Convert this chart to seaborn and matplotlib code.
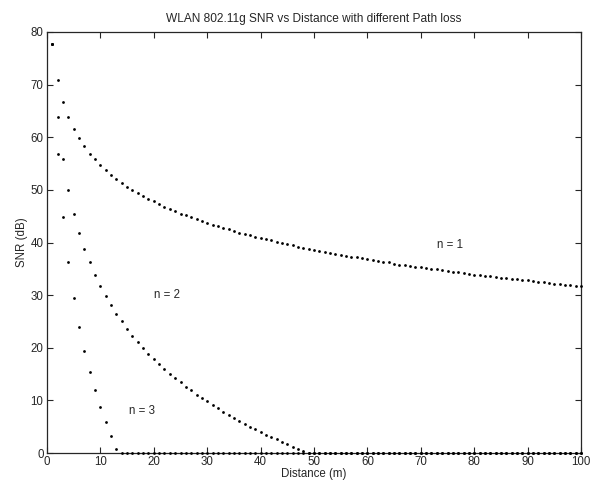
import matplotlib
matplotlib.use('Agg')
import matplotlib.pyplot as plt
import numpy as np
import pandas as pd
import seaborn as sns

# Distance in metres, one sample per metre
distance = list(range(1, 101))

# SNR (dB), path loss exponent n = 1
snr_n1 = [77.7, 70.8, 66.7, 63.9, 61.6, 59.8, 58.3, 56.9, 55.8, 54.7,
          53.8, 52.9, 52.1, 51.3, 50.6, 50.0, 49.4, 48.8, 48.3, 47.8,
          47.3, 46.8, 46.4, 46.0, 45.5, 45.2, 44.8, 44.4, 44.1, 43.7,
          43.4, 43.1, 42.8, 42.5, 42.2, 41.9, 41.6, 41.4, 41.1, 40.9,
          40.6, 40.4, 40.1, 39.9, 39.7, 39.5, 39.2, 39.0, 38.8, 38.6,
          38.4, 38.2, 38.0, 37.9, 37.7, 37.5, 37.3, 37.2, 37.0, 36.8,
          36.6, 36.5, 36.3, 36.2, 36.0, 35.8, 35.7, 35.5, 35.4, 35.3,
          35.1, 35.0, 34.9, 34.7, 34.6, 34.4, 34.3, 34.2, 34.0, 33.9,
          33.8, 33.7, 33.6, 33.4, 33.3, 33.2, 33.1, 33.0, 32.9, 32.8,
          32.6, 32.5, 32.4, 32.3, 32.2, 32.1, 32.0, 31.9, 31.8, 31.7]

# n = 2, reaches 0 dB near 48 m and stays there
snr_n2 = [77.7, 63.9, 55.8, 50.0, 45.5, 41.9, 38.8, 36.2, 33.8, 31.7,
          29.8, 28.1, 26.5, 25.0, 23.6, 22.3, 21.1, 20.0, 18.9, 17.9,
          16.9, 16.0, 15.1, 14.2, 13.4, 12.6, 11.9, 11.1, 10.4, 9.8,
          9.1, 8.5, 7.8, 7.3, 6.7, 6.1, 5.6, 5.0, 4.5, 4.0,
          3.5, 3.0, 2.6, 2.1, 1.7, 1.2, 0.8, 0.4] + [0.0] * 52

# n = 3, reaches 0 dB near 13 m
snr_n3 = [77.7, 56.9, 44.8, 36.2, 29.5, 24.0, 19.4, 15.4, 11.9, 8.7,
          5.9, 3.3, 0.8] + [0.0] * 87

labels = ['n = 1', 'n = 2', 'n = 3']

sns.set_style('ticks')
plt.rcParams['font.family'] = ['Liberation Sans', 'DejaVu Sans']
FS = 8.3

fig = plt.figure(figsize=(5.9, 4.83), dpi=100)
ax = fig.add_axes([47 / 590, 1 - 453 / 483, 534 / 590, 421 / 483])

for snr in [snr_n1, snr_n2, snr_n3]:
    df = pd.DataFrame({'Distance': distance, 'SNR': snr})
    sns.scatterplot(data=df, x='Distance', y='SNR', ax=ax, color='black',
                    s=4, linewidth=0, marker='o', clip_on=False, zorder=3)

ax.text(73, 39.5, labels[0], fontsize=FS, va='center', ha='left')
ax.text(20, 30, labels[1], fontsize=FS, va='center', ha='left')
ax.text(15.3, 7.9, labels[2], fontsize=FS, va='center', ha='left')

ax.set_xlim(0, 100)
ax.set_ylim(0, 80)
ax.set_xticks(np.arange(0, 101, 10))
ax.set_yticks(np.arange(0, 81, 10))
ax.tick_params(direction='in', length=4, width=0.8, labelsize=FS,
               top=True, right=True, pad=2.5)
for sp in ax.spines.values():
    sp.set_visible(True)
    sp.set_linewidth(0.9)

ax.set_xlabel('Distance (m)', fontsize=FS, labelpad=0)
ax.set_ylabel('SNR (dB)', fontsize=FS, labelpad=2)
ax.set_title('WLAN 802.11g SNR vs Distance with different Path loss',
             fontsize=8.6, pad=7)

fig.savefig('out.png', dpi=100)
